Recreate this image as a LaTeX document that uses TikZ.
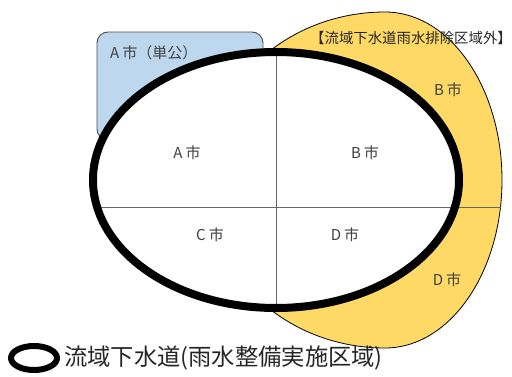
\documentclass[tikz,border=0pt]{standalone}
\usepackage{fontspec}
\newfontfamily\cjk{Noto Sans CJK JP}
\definecolor{yel}{HTML}{FFD966}
\definecolor{blu}{HTML}{BDD7EE}
\definecolor{txt}{HTML}{404040}
\begin{document}
\begin{tikzpicture}[x=1pt,y=1pt,
  lbl/.style={font=\cjk\fontsize{15}{17}\selectfont, text=txt, inner sep=0pt},
  grid/.style={draw=black!60, line width=0.8pt}]
\useasboundingbox (0,0) rectangle (512,376);
% yellow outside region
\filldraw[fill=yel, draw=black, line width=0.8pt]
  (385,364) arc[start angle=90, end angle=-90, x radius=117, y radius=168]
  arc[start angle=270, end angle=90, x radius=180, y radius=168] -- cycle;
% blue box
\filldraw[fill=blu, draw=black!70, line width=0.9pt, rounded corners=11]
  (97,236) rectangle (263,344);
% main region
\fill[white] (276,196) ellipse[x radius=183, y radius=128];
\coordinate (vt) at (276,324);
\coordinate (vb) at (276,68);
\coordinate (hl) at (94,169);
\coordinate (hr) at (500.5,169);
\draw[grid] (vt) -- (vb);
\draw[grid] (hl) -- (hr);
\draw[line width=8pt] (276,196) ellipse[x radius=183, y radius=128];
% labels
\node[lbl, anchor=west] (a0) at (110,323) {A\hspace{3pt}市（単公）};
\node[lbl, text=black!85, font=\cjk\fontsize{14.4}{16}\selectfont] (title) at (411,338) {【流域下水道雨水排除区域外】};
\node[lbl] (a) at (187,223) {A\hspace{3pt}市};
\node[lbl] (b) at (365,223) {B\hspace{3pt}市};
\node[lbl] (c) at (210,141) {C\hspace{3pt}市};
\node[lbl] (d) at (345,141) {D\hspace{3pt}市};
\node[lbl] (b2) at (448,286) {B\hspace{3pt}市};
\node[lbl] (d2) at (447,96) {D\hspace{3pt}市};
% legend
\draw[line width=6pt] (34,18) ellipse[x radius=23, y radius=12];
\node[anchor=west, inner sep=0pt, font=\cjk\fontsize{23.3}{25}\selectfont, text=black!85] (leg) at (64,18) {流域下水道(雨水整備実施区域)};
\end{tikzpicture}
\end{document}
